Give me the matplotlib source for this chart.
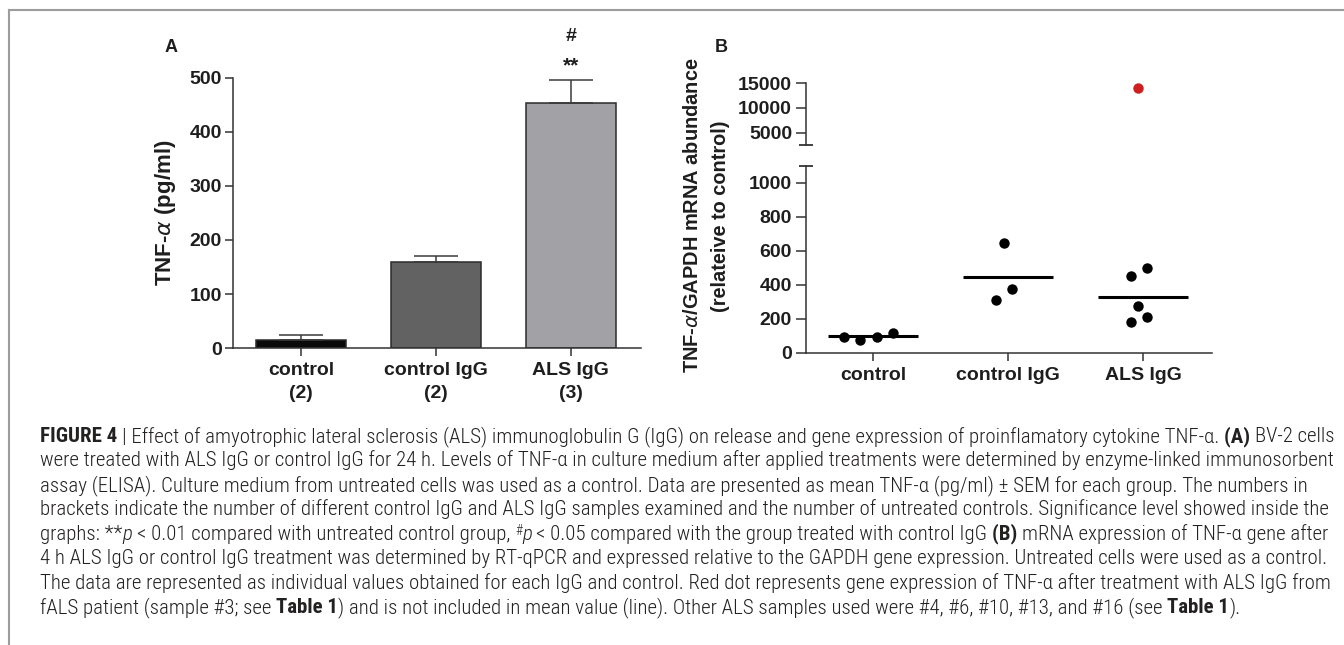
"""
Figure 4 recreation: TNF-alpha release (bar chart) and mRNA abundance (broken-axis dot plot).
"""
import numpy as np
import matplotlib
matplotlib.use("Agg")
import matplotlib.pyplot as plt
from matplotlib.lines import Line2D

# -------------------- Data --------------------
groups_a = ["control\n(2)", "control IgG\n(2)", "ALS IgG\n(3)"]
tnf_mean = [15, 160, 453]      # pg/ml
tnf_sem = [9, 10, 43]
bar_colors = ["#0a0a0a", "#626262", "#a2a2a6"]

groups_b = ["control", "control IgG", "ALS IgG"]
ctrl_vals = [94, 75, 90, 117]
ctrl_jit = [-0.215, -0.096, 0.025, 0.148]
cigg_vals = [646, 309, 374]
cigg_jit = [-0.033, -0.092, 0.027]
als_vals = [452, 501, 276, 211, 178]
als_jit = [-0.094, 0.025, -0.035, 0.025, -0.094]
fals_val = 14000               # red dot, sample #3
fals_jit = -0.035
group_means = [100, 446, 329]  # lines

# -------------------- Config --------------------
W, H = 1344, 645
FONT = ["Liberation Sans", "DejaVu Sans"]
CAP_FONT = ["Roboto Condensed", "Liberation Sans Narrow", "Roboto", "Liberation Sans", "DejaVu Sans"]
INK = "#1e1e1e"
plt.rcParams["font.family"] = FONT
plt.rcParams["mathtext.fontset"] = "dejavusans"

fig = plt.figure(figsize=(W / 100, H / 100), dpi=100)


def px_rect(l, t, r, b):
    return [l / W, 1 - b / H, (r - l) / W, (b - t) / H]


def style_axis(ax, labelsize=14):
    for s in ["top", "right"]:
        ax.spines[s].set_visible(False)
    for s in ["left", "bottom"]:
        ax.spines[s].set_linewidth(1.1)
        ax.spines[s].set_color("#333333")
    ax.tick_params(direction="out", length=6, width=1.1, color="#333333",
                   labelsize=labelsize, labelcolor=INK)
    for lab in ax.get_xticklabels() + ax.get_yticklabels():
        lab.set_fontweight("bold")


# -------------------- Panel A --------------------
axA = fig.add_axes(px_rect(233, 78, 641, 348))
xa = np.arange(len(groups_a))
axA.bar(xa, tnf_mean, width=0.667, color=bar_colors, edgecolor="#2b2b2b",
        linewidth=1.1, zorder=2)
axA.errorbar(xa, tnf_mean, yerr=[np.zeros(len(xa)), tnf_sem], fmt="none",
             ecolor="#3a3a3a", elinewidth=1.1, capsize=16, capthick=1.1, zorder=3)
axA.set_xlim(-0.504, 2.52)
axA.set_ylim(0, 500)
axA.set_yticks(range(0, 501, 100))
axA.set_xticks(xa)
axA.set_xticklabels(groups_a, linespacing=1.5)
style_axis(axA)
axA.tick_params(axis="y", pad=2)
axA.tick_params(axis="x", pad=4)
axA.set_ylabel(r"TNF-$\alpha$ (pg/ml)", fontsize=16, fontweight="bold", color=INK, labelpad=8)
axA.text(2, 522, "**", ha="center", va="center", fontsize=15, fontweight="bold",
         color=INK, clip_on=False)
axA.text(2, 576, "#", ha="center", va="center", fontsize=14, fontweight="bold",
         color=INK, clip_on=False)
fig.text(171 / W, 1 - 48 / H, "A", ha="center", va="center", fontsize=13,
         fontweight="bold", color=INK)

# -------------------- Panel B (broken y axis) --------------------
axBl = fig.add_axes(px_rect(806, 166, 1212, 352.7))
axBu = fig.add_axes(px_rect(806, 83, 1212, 145))
for ax in (axBl, axBu):
    ax.set_xlim(-0.5, 2.51)

axBl.set_ylim(0, 1100)
axBl.set_yticks(range(0, 1001, 200))
axBl.set_xticks(range(len(groups_b)))
axBl.set_xticklabels(groups_b)

axBu.set_ylim(2500, 15000)
axBu.set_yticks([5000, 10000, 15000])
axBu.set_xticks([])
axBu.spines["bottom"].set_visible(False)

for ax in (axBl, axBu):
    style_axis(ax)
    ax.tick_params(axis="y", pad=3, length=7)
    ax.tick_params(axis="x", pad=4, length=6)
    ax.patch.set_alpha(0)

# break marks
axBl.plot([0], [1], marker="_", ms=10, mew=1.3, color="#333333",
          transform=axBl.transAxes, clip_on=False)
axBu.plot([0], [0], marker="_", ms=10, mew=1.3, color="#333333",
          transform=axBu.transAxes, clip_on=False)

for i, (vals, jit) in enumerate([(ctrl_vals, ctrl_jit), (cigg_vals, cigg_jit),
                                  (als_vals, als_jit)]):
    axBl.plot(i + np.array(jit), vals, "o", color="black", ms=7.5, mec="none",
              clip_on=False, zorder=3)
    axBl.hlines(group_means[i], i - 0.335, i + 0.33, color="black", lw=2.2, zorder=2)

axBu.plot([2 + fals_jit], [fals_val], "o", color="#cc2020", ms=7.5, mec="none")

fig.text(693 / W, 1 - 215 / H, r"TNF-$\alpha$/GAPDH mRNA abundance", rotation=90,
         ha="center", va="center", fontsize=14.4, fontweight="bold", color=INK)
fig.text(720 / W, 1 - 216 / H, "(relateive to control)", rotation=90,
         ha="center", va="center", fontsize=14.4, fontweight="bold", color=INK)
fig.text(721 / W, 1 - 48 / H, "B", ha="center", va="center", fontsize=13,
         fontweight="bold", color=INK)

# -------------------- Frame lines --------------------
fig.add_artist(Line2D([9 / W, 1], [1 - 10 / H, 1 - 10 / H], color="#9c9c9c", lw=1.5))
fig.add_artist(Line2D([9 / W, 9 / W], [0, 1 - 10 / H], color="#9c9c9c", lw=1.5))

# -------------------- Caption --------------------
N, B_, I_, S_ = "n", "b", "i", "s"
caption = [
    [("FIGURE 4 ", B_),
     ("| Effect of amyotrophic lateral sclerosis (ALS) immunoglobulin G (IgG) on release and gene "
      "expression of proinflamatory cytokine TNF-α. ", N),
     ("(A) ", B_), ("BV-2 cells", N)],
    [("were treated with ALS IgG or control IgG for 24 h. Levels of TNF-α in culture medium after "
      "applied treatments were determined by enzyme-linked immunosorbent", N)],
    [("assay (ELISA). Culture medium from untreated cells was used as a control. Data are presented "
      "as mean TNF-α (pg/ml) ± SEM for each group. The numbers in", N)],
    [("brackets indicate the number of different control IgG and ALS IgG samples examined and the "
      "number of untreated controls. Significance level showed inside the", N)],
    [("graphs: **", N), ("p ", I_), ("< 0.01 compared with untreated control group, ", N),
     ("#", S_), ("p ", I_), ("< 0.05 compared with the group treated with control IgG ", N),
     ("(B) ", B_), ("mRNA expression of TNF-α gene after", N)],
    [("4 h ALS IgG or control IgG treatment was determined by RT-qPCR and expressed relative to the "
      "GAPDH gene expression. Untreated cells were used as a control.", N)],
    [("The data are represented as individual values obtained for each IgG and control. Red dot "
      "represents gene expression of TNF-α after treatment with ALS IgG from", N)],
    [("fALS patient (sample #3; see ", N), ("Table 1", B_),
     (") and is not included in mean value (line). Other ALS samples used were #4, #6, #10, #13, "
      "and #16 (see ", N), ("Table 1", B_), (").", N)],
]
CAP_X0, CAP_Y0, CAP_DY = 40, 442, 24.45
CAP_REF_W = 1293  # width of line 2 in the reference

renderer = fig.canvas.get_renderer()


def seg_props(style, size):
    p = dict(family=CAP_FONT, fontsize=size, color="#232020", fontweight="light")
    if style == B_:
        p["fontweight"] = "bold"
    elif style == I_:
        p["fontstyle"] = "italic"
    elif style == S_:
        p["fontsize"] = size * 0.65
    return p


def advance(s, props):
    a = fig.text(0, 0, "x" + s + "x", **props)
    b = fig.text(0, 0, "xx", **props)
    w = a.get_window_extent(renderer).width - b.get_window_extent(renderer).width
    a.remove()
    b.remove()
    return w


base = 10
cap_size = base * CAP_REF_W / advance(caption[1][0][0], seg_props(N, base))

for i, line in enumerate(caption):
    x = CAP_X0
    y = CAP_Y0 + i * CAP_DY
    for text, style in line:
        props = seg_props(style, cap_size)
        dy = -5 if style == S_ else 0
        fig.text(x / W, 1 - (y + dy) / H, text, ha="left", va="baseline", **props)
        x += advance(text, props)

fig.savefig("out.png", dpi=100)
